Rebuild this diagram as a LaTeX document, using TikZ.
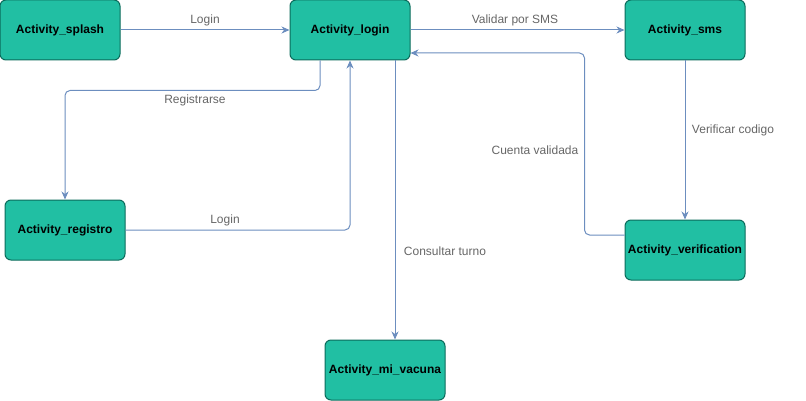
\documentclass[tikz,border=0pt]{standalone}
\usepackage{fontspec}
\setmainfont{Liberation Sans}
\usetikzlibrary{arrows.meta}
\definecolor{actfill}{HTML}{21BFA3}
\definecolor{actdraw}{HTML}{0B6B5B}
\definecolor{edgecol}{HTML}{6C8EBF}
\definecolor{labcol}{HTML}{666666}
\tikzset{
  act/.style={draw=actdraw, fill=actfill, line width=1pt, rounded corners=6pt,
    minimum width=120pt, minimum height=60pt, inner sep=0pt,
    font=\fontsize{12pt}{14pt}\selectfont\bfseries, text=black},
  edge/.style={draw=edgecol, line width=1pt, rounded corners=5pt,
    -{Stealth[length=8pt,width=7pt,inset=2.5pt]}},
  lab/.style={font=\fontsize{12pt}{14pt}\selectfont, text=labcol, inner sep=0pt}
}
\begin{document}
\begin{tikzpicture}[x=1pt,y=-1pt]
\useasboundingbox (0,0) rectangle (806,401);
\node[act] (splash) at (60,30) {Activity\_splash};
\node[act] (login) at (350,30) {Activity\_login};
\node[act] (sms) at (685,30) {Activity\_sms};
\node[act] (registro) at (65,230) {Activity\_registro};
\node[act] (verif) at (685,250) {Activity\_verification};
\node[act] (vacuna) at (385,370) {Activity\_mi\_vacuna};

\draw[edge] (splash) -- (login);
\node[lab] (l1) at (205,20) {Login};

\draw[edge] (login) -- (sms);
\node[lab] (l2) at (515,20) {Validar por SMS};

\draw[edge] ([xshift=-30pt]login.south) -- ++(0,30) -| (registro.north);
\node[lab] (l3) at (195,100) {Registrarse};

\draw[edge] (registro.east) -| (login.south);
\node[lab] (l4) at (225,220) {Login};

\draw[edge] ([xshift=45pt]login.south) -- ([xshift=10pt]vacuna.north);
\node[lab] (l5) at (445,251) {Consultar turno};

\draw[edge] (sms) -- (verif);
\node[lab] (l6) at (733,130) {Verificar codigo};

\draw[edge] ([yshift=15pt]verif.west) -- ++(-40,0) |- ([yshift=-23pt]login.east);
\node[lab] (l7) at (535,150) {Cuenta validada};
\end{tikzpicture}
\end{document}
